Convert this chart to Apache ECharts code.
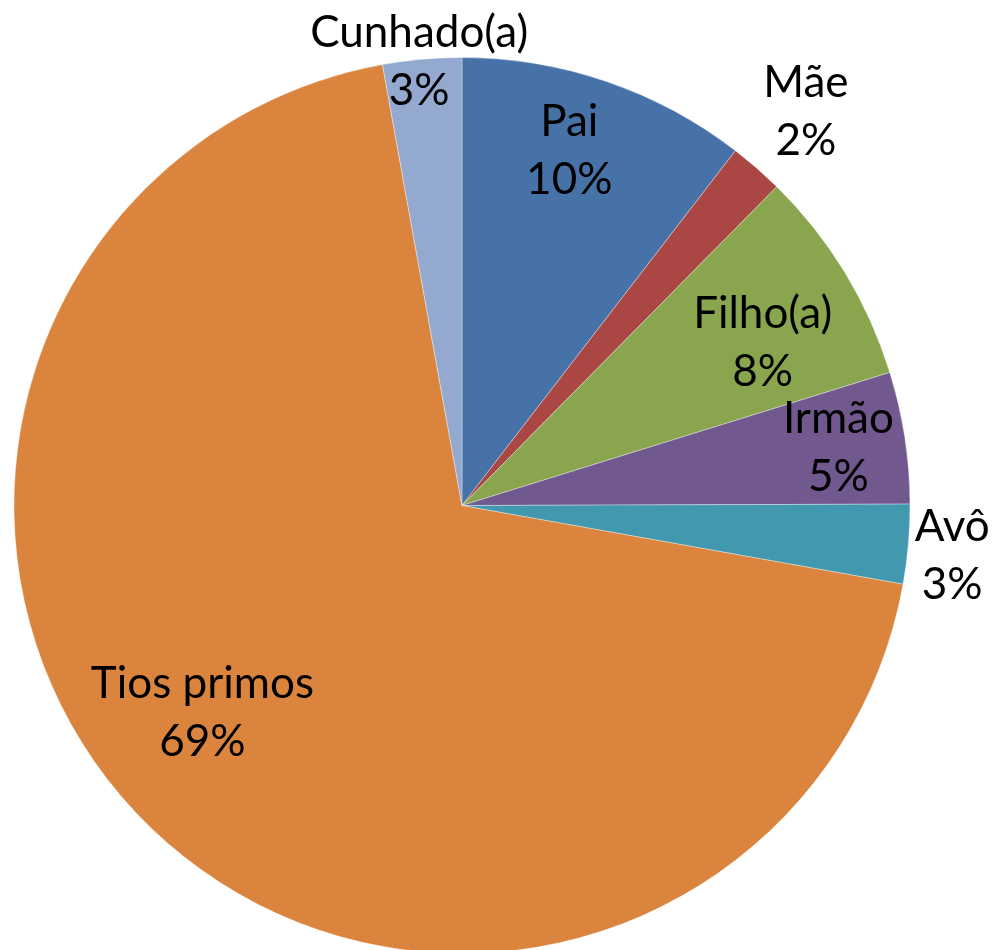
<!DOCTYPE html>
<html>
<head>
<meta charset="utf-8">
<script src="https://cdn.jsdelivr.net/npm/echarts@6/dist/echarts.min.js"></script>
<style>
  html, body { margin: 0; padding: 0; background: #fff; }
  #chart1 { width: 997px; height: 950px; }
</style>
</head>
<body>
<div id="chart1"></div>
<script>
var categories = ['Pai', 'Mãe', 'Filho(a)', 'Irmão', 'Avô', 'Tios primos', 'Cunhado(a)'];
var values = [10.45, 1.95, 7.8, 4.75, 2.86, 69.35, 2.84];
var colors = ['#4672A8', '#AA4643', '#89A54E', '#71588F', '#4198AF', '#DB843D', '#93A9CF'];

// where each label sits: distance from centre (share of radius) and turn from slice middle (deg)
var labelDist = [0.828, 1.167, 0.763, 0.850, 1.100, 0.741, 0.995];
var labelTurn = [-2.0, 0, 2.9, 0, 0.9, 6.5, -0.4];

var cx = 462, cy = 505.5, radius = 448;

var total = values.reduce(function (s, v) { return s + v; }, 0);
var cum = [];
values.reduce(function (s, v, i) { cum[i] = s; return s + v; }, 0);

var myChart = echarts.init(document.getElementById('chart1'));

var option = {
  animation: false,
  backgroundColor: '#fff',
  series: [
    {
      type: 'pie',
      center: [cx, cy],
      radius: radius,
      startAngle: 90,
      clockwise: true,
      avoidLabelOverlap: false,
      itemStyle: {
        borderColor: 'rgba(255,255,255,0.5)',
        borderWidth: 0.7
      },
      label: {
        show: true,
        position: 'inside',
        color: '#000',
        fontFamily: 'Lato',
        fontSize: 44,
        lineHeight: 58,
        formatter: function (p) {
          return p.name + '\n' + Math.round(p.percent) + '%';
        }
      },
      labelLine: { show: false },
      emphasis: { disabled: true },
      labelLayout: function (p) {
        var i = p.dataIndex;
        var a = ((cum[i] + values[i] / 2) / total * 360 + labelTurn[i]) * Math.PI / 180;
        var r = labelDist[i] * radius;
        return {
          x: cx + r * Math.sin(a),
          y: cy - r * Math.cos(a),
          align: 'center',
          verticalAlign: 'middle'
        };
      },
      data: categories.map(function (c, i) {
        return { name: c, value: values[i], itemStyle: { color: colors[i] } };
      })
    }
  ]
};

myChart.setOption(option);
</script>
</body>
</html>
